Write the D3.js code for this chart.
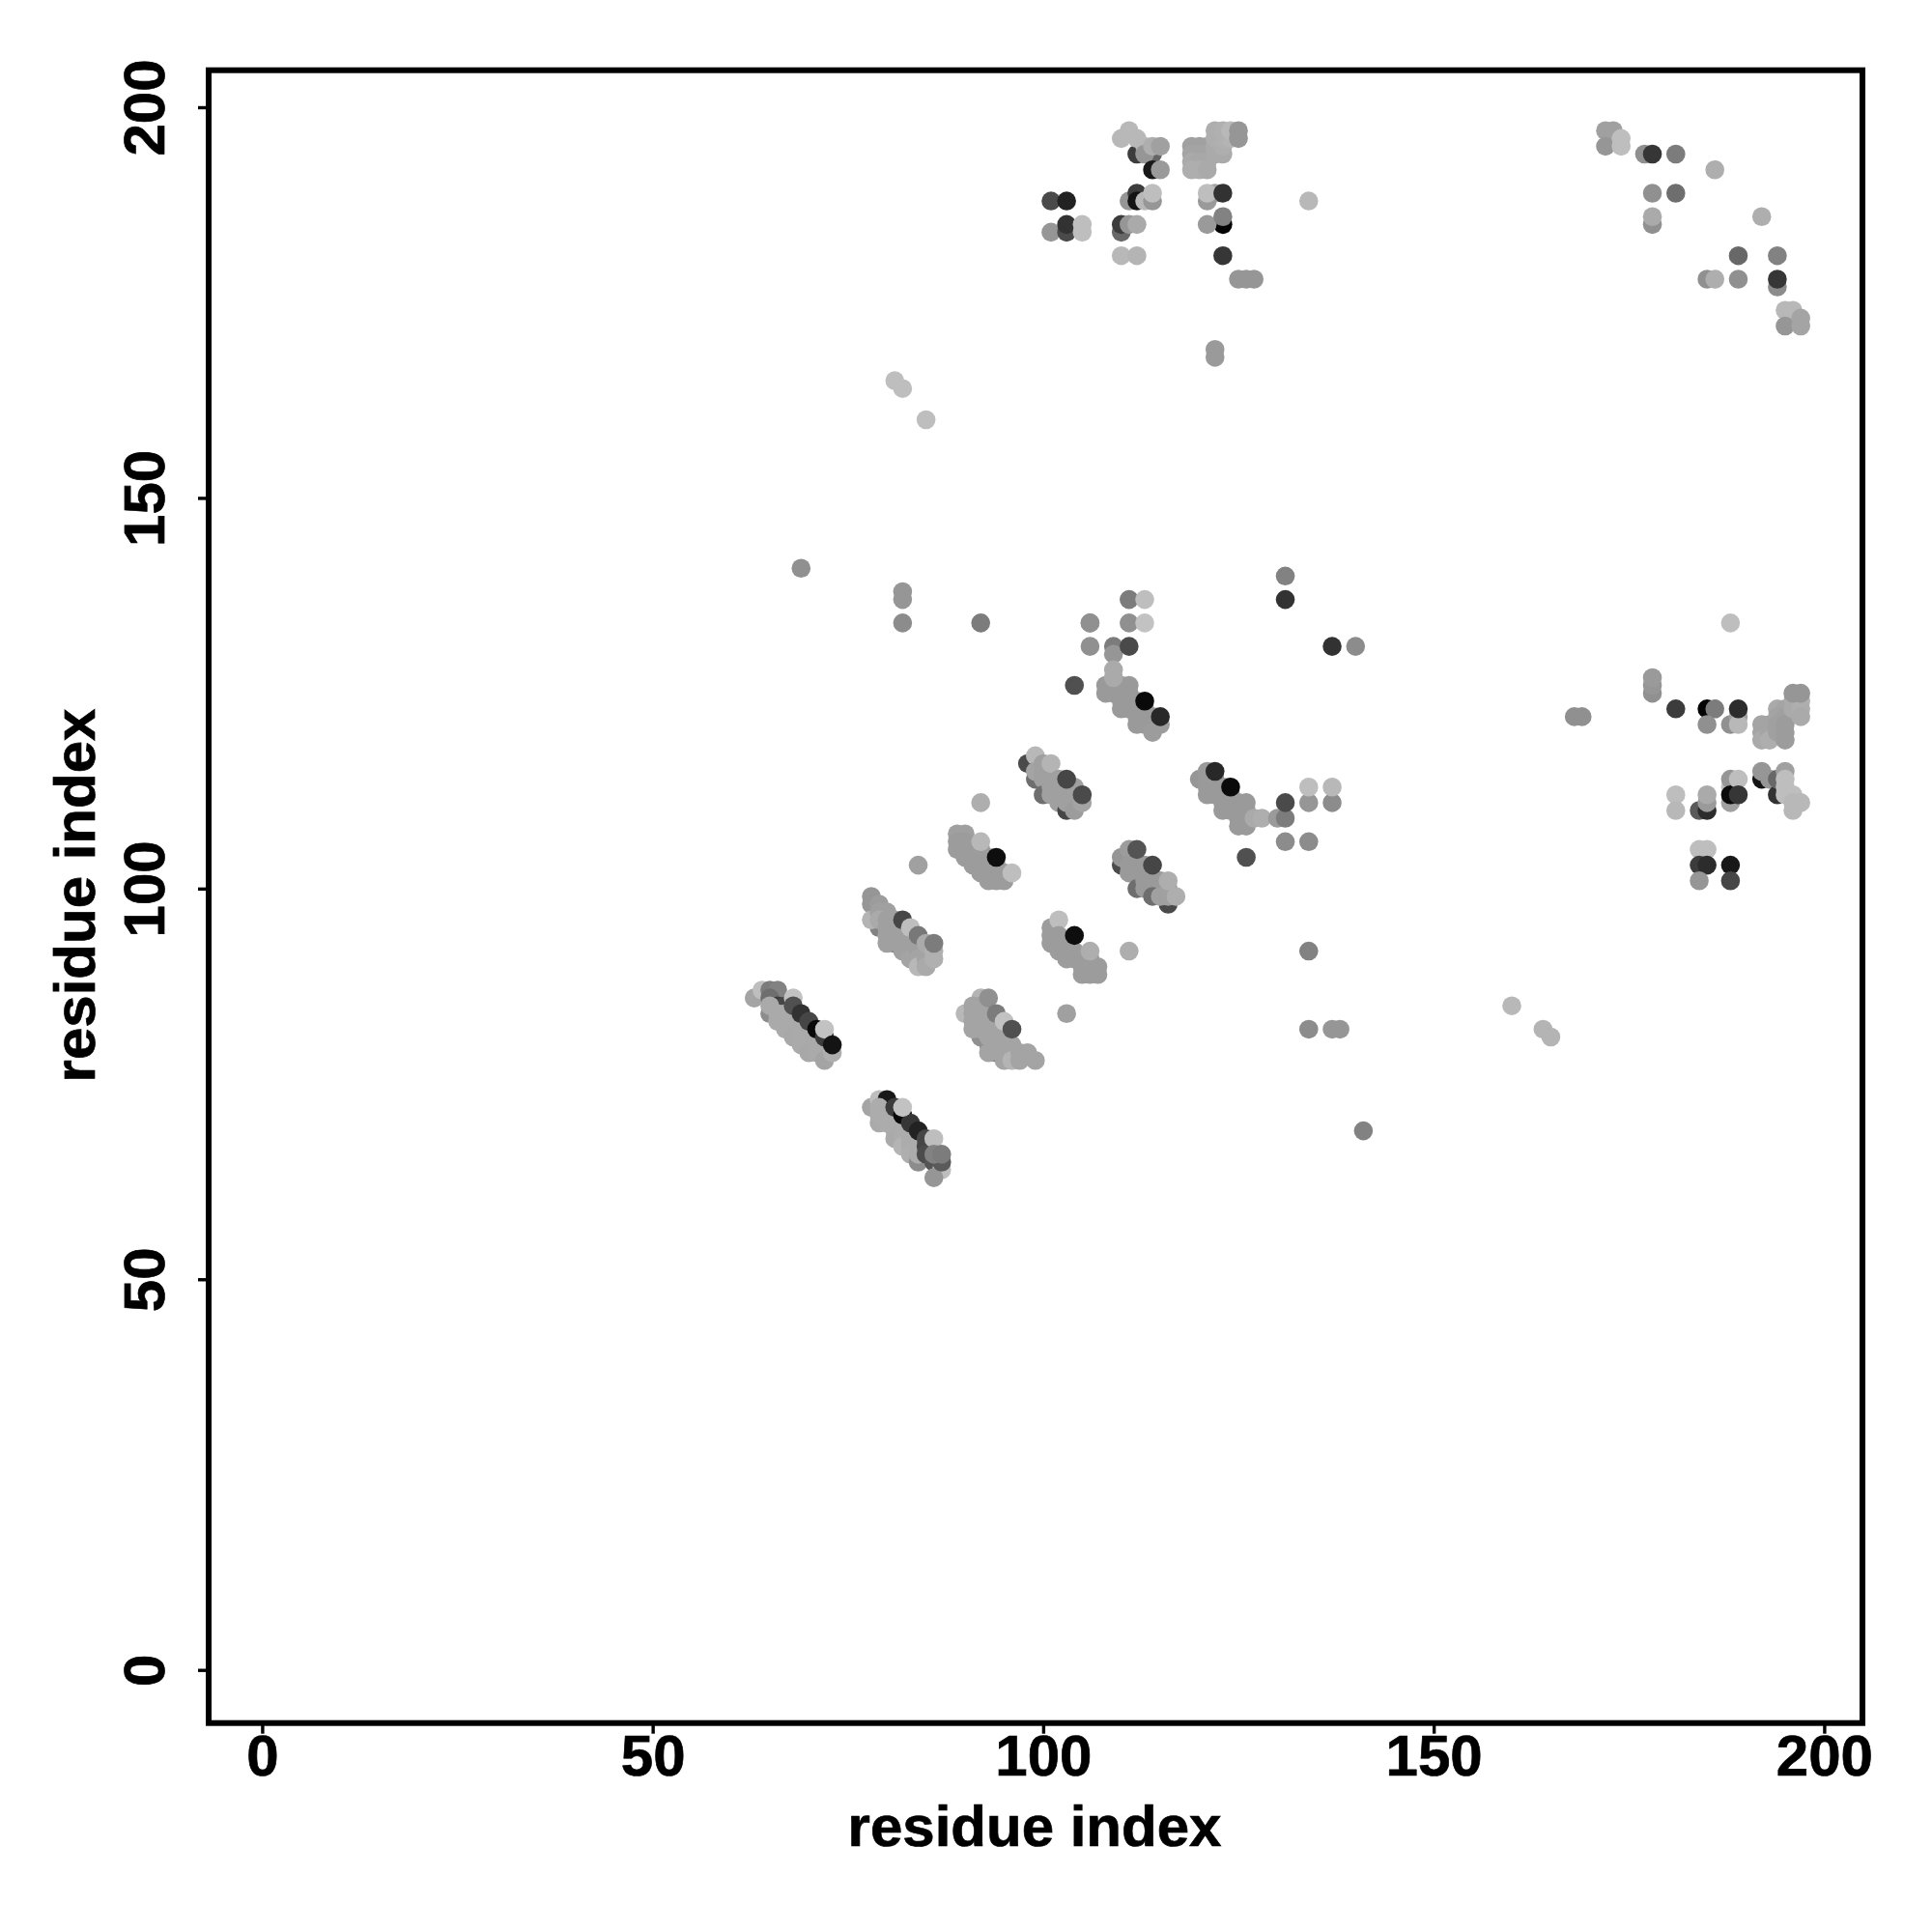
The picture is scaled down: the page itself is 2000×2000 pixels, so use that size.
<!DOCTYPE html>
<html><head><meta charset="utf-8">
<script src="https://d3js.org/d3.v7.min.js"></script>
<style>html,body{margin:0;padding:0;background:#fff}svg{display:block}text{font-family:"Liberation Sans",Arial,sans-serif;font-weight:700;fill:#000;stroke:#000;stroke-width:0.7px}</style>
</head><body><svg id="c" width="2000" height="2000"></svg>
<script>
// each contact: [residue i, residue j, shade score 0 (dark) – 100 (light)]
const helixA = [[63,86,82],[64,87,95],[65,87,62],[66,87,65],[65,86,55],[65,84,70],[66,85,30],[67,85,35],[65,85,85],[66,84,85],[66,83,85],[67,84,85],[67,83,85],[67,82,85],[68,83,85],[68,82,85],[68,81,84],[69,82,85],[69,81,85],[69,80,85],[70,81,85],[70,80,85],[70,79,84],[71,81,85],[71,80,85],[71,79,85],[72,80,85],[72,79,85],[72,78,82],[73,79,87],[68,86,97],[68,85,40],[69,84,25],[70,83,35],[71,82,5],[72,81,30],[72,82,97],[73,80,10]];
const helixB = [[78,72,82],[79,73,95],[79,70,85],[80,73,12],[79,72,86],[79,71,86],[80,71,86],[80,70,86],[81,70,86],[81,69,86],[81,68,85],[82,69,86],[82,68,86],[82,67,90],[83,68,86],[83,67,86],[83,66,87],[84,65,70],[84,67,86],[84,66,86],[85,66,86],[81,72,30],[82,71,5],[83,70,27],[84,69,17],[85,68,35],[85,67,35],[85,66,38],[86,65,42],[82,72,97],[86,68,95],[87,64,95],[86,63,75],[87,65,45],[86,66,65],[87,66,62]];
const helixC = [[92,81,72],[93,80,72],[94,79,65],[90,84,92],[92,86,90],[91,85,82],[91,84,82],[91,83,82],[91,82,82],[92,85,82],[92,84,82],[92,83,82],[92,82,82],[93,83,82],[93,82,82],[93,81,82],[93,79,82],[94,82,82],[94,81,82],[94,80,82],[95,81,82],[95,80,82],[95,79,82],[95,78,82],[96,80,82],[96,79,82],[96,78,90],[97,78,82],[97,79,82],[98,79,82],[99,78,82],[93,86,72],[94,84,62],[95,83,97],[96,82,40]];
const helixD = [[79,95,65],[81,93,65],[78,99,75],[78,98,75],[79,98,78],[78,96,90],[79,97,80],[80,97,80],[79,96,85],[80,96,80],[80,95,80],[80,94,80],[80,93,80],[81,96,80],[81,95,80],[81,94,80],[82,95,80],[82,94,80],[82,93,80],[82,92,80],[83,94,80],[83,93,80],[83,92,80],[83,91,82],[84,93,80],[84,92,80],[84,91,82],[84,90,92],[85,92,82],[85,91,82],[85,90,85],[86,91,88],[82,96,35],[83,95,95],[84,94,60],[85,93,85],[86,92,88],[86,93,62]];
const helixE = [[89,107,80],[90,107,80],[89,106,78],[90,106,78],[89,105,78],[90,105,78],[91,105,78],[92,105,78],[91,104,78],[92,104,78],[93,104,78],[90,104,78],[91,103,78],[92,103,78],[93,103,78],[94,103,78],[92,102,78],[93,102,78],[94,102,78],[95,102,78],[93,101,78],[94,101,78],[95,101,78],[92,106,92],[94,104,7],[96,102,95]];
const helixF = [[98,116,37],[99,114,55],[99,117,92],[99,115,82],[100,116,80],[100,115,80],[100,114,80],[100,112,55],[101,114,80],[101,113,80],[101,112,80],[101,116,90],[102,114,80],[102,113,80],[102,112,80],[102,111,80],[103,110,35],[103,112,80],[103,111,80],[104,113,80],[104,112,80],[104,111,80],[104,110,78],[105,111,82],[103,114,35],[105,112,37]];
const helixG = [[101,95,78],[101,94,78],[101,93,78],[102,96,95],[102,94,78],[102,93,78],[102,92,78],[103,93,78],[103,92,78],[103,91,78],[104,92,78],[104,91,78],[105,91,78],[105,90,78],[105,89,78],[106,91,78],[106,90,78],[106,89,78],[107,90,78],[107,89,78],[104,94,7],[106,92,87]];
const helixH = [[110,103,37],[110,104,75],[111,105,78],[111,103,77],[111,102,77],[112,103,77],[112,102,77],[112,100,55],[113,103,77],[113,102,77],[113,101,77],[113,100,77],[114,101,77],[114,100,77],[115,101,77],[115,100,77],[116,100,77],[114,99,55],[116,98,37],[115,99,80],[116,99,80],[112,105,42],[114,103,35],[116,101,87],[117,99,87]];
const helixI = [[120,114,75],[121,115,77],[121,114,77],[122,114,77],[121,113,77],[122,113,77],[121,112,77],[122,112,77],[123,113,77],[123,112,77],[123,111,77],[123,110,77],[124,112,77],[124,111,77],[124,110,77],[125,111,77],[125,110,77],[125,109,77],[125,108,77],[126,111,77],[126,110,77],[126,109,77],[126,108,77],[127,109,85],[128,109,87],[130,109,77],[131,109,62],[131,111,37],[122,115,20],[124,113,5]];
const helixJ = [[108,126,77],[108,125,77],[109,126,77],[109,125,77],[110,126,77],[111,126,77],[110,125,77],[111,125,77],[110,124,77],[111,124,77],[110,123,77],[111,123,77],[112,124,77],[112,123,77],[112,122,77],[112,121,77],[113,123,77],[113,122,77],[113,121,77],[114,122,77],[114,121,77],[114,120,78],[115,121,78],[109,131,62],[109,130,75],[109,128,85],[109,127,85],[104,126,40],[106,134,72],[106,131,72],[111,131,37],[111,134,72],[113,134,97],[111,137,62],[113,137,95],[113,124,5],[115,122,20]];
const upperMiddle = [[101,188,37],[103,188,17],[101,184,75],[103,184,37],[103,185,25],[105,184,95],[105,185,95],[110,184,52],[110,185,30],[111,185,75],[112,185,85],[110,181,92],[112,181,90],[111,188,75],[112,189,30],[112,188,10],[113,188,92],[114,188,75],[114,189,95],[112,194,30],[114,194,50],[110,196,92],[111,197,92],[112,196,92],[113,195,92],[113,194,75],[114,195,87],[114,192,12],[115,192,77],[115,195,80]];
const upperBlock = [[119,195,80],[120,195,80],[121,195,80],[119,194,82],[120,194,82],[121,194,82],[119,193,85],[120,193,84],[121,193,84],[119,192,87],[120,192,87],[121,192,85],[122,195,85],[122,194,85],[123,194,85],[123,195,87],[122,196,87],[123,196,88],[124,196,90],[122,197,87],[123,197,88],[124,197,92],[125,197,75],[125,196,75],[122,189,82],[121,188,77],[121,189,95],[123,189,25],[123,185,2],[121,185,77],[123,186,65],[123,181,27],[125,178,75],[126,178,75],[127,178,75],[122,169,77],[122,168,77]];
const upperRight = [[172,197,80],[173,197,80],[172,195,75],[174,196,95],[174,195,95],[177,194,72],[178,194,27],[181,194,62],[186,192,87],[178,189,72],[181,189,55],[178,185,72],[178,186,85],[192,186,87],[189,181,52],[194,181,65],[185,178,72],[186,178,87],[189,178,72],[194,177,70],[194,178,27],[195,174,92],[196,174,92],[195,172,75],[197,173,82],[197,172,82]];
const lowerRight = [[188,134,95],[178,125,72],[178,126,75],[178,127,77],[168,122,72],[169,122,72],[181,123,30],[185,123,2],[186,123,62],[185,121,72],[188,121,72],[189,122,80],[189,121,92],[189,123,22],[192,121,82],[192,120,82],[192,119,85],[193,121,82],[193,120,82],[193,119,87],[194,123,85],[194,122,82],[194,121,80],[194,120,80],[195,123,82],[195,122,80],[195,121,78],[195,120,78],[195,119,78],[196,124,85],[196,123,85],[197,124,88],[197,123,87],[197,122,85],[196,125,75],[197,125,75],[181,112,95],[181,110,92],[184,110,45],[185,110,22],[185,111,77],[185,112,85],[188,111,80],[188,113,95],[188,114,75],[188,112,5],[189,114,95],[189,112,27],[192,114,10],[192,115,75],[193,114,75],[194,112,25],[194,114,52],[195,115,80],[195,114,95],[195,113,95],[195,112,95],[196,112,95],[196,111,92],[197,111,92],[196,110,92],[184,105,95],[185,105,95],[184,103,30],[185,103,22],[184,101,75],[188,103,12],[188,101,35]];
const isolated = [[69,141,72],[82,138,75],[82,137,75],[82,134,70],[92,134,62],[106,134,72],[84,103,80],[92,111,87],[103,84,80],[111,92,87],[126,104,40],[131,106,70],[134,106,70],[134,111,75],[134,113,95],[137,111,70],[137,113,92],[131,140,65],[131,137,25],[137,131,25],[140,131,70],[134,92,65],[134,82,70],[137,82,75],[138,82,75],[141,69,65],[160,85,92],[164,82,90],[165,81,90],[81,165,95],[82,164,95],[85,160,95],[134,188,92]];
const xTicks = [0,50,100,150,200];
const yTicks = [0,50,100,150,200];
const xTitle = "residue index";
const yTitle = "residue index";

const contacts = [].concat(helixA,helixB,helixC,helixD,helixE,helixF,helixG,helixH,helixI,helixJ,upperMiddle,upperBlock,upperRight,lowerRight,isolated);

const x = d3.scaleLinear().domain([0,200]).range([271.4,1888.4]);
const y = d3.scaleLinear().domain([0,200]).range([1728.7,111]);
const shade = d3.scaleLinear().domain([0,100]).range(["#000000","#c8c8c8"]);
const frame = {l:216,r:1928,t:72.7,b:1783.7};
const svg = d3.select("#c");

svg.append("g").selectAll("circle").data(contacts).join("circle")
  .attr("cx",d=>x(d[0])).attr("cy",d=>y(d[1])).attr("r",9.8)
  .attr("fill",d=>shade(d[2]));

svg.append("rect").attr("x",frame.l).attr("y",frame.t)
  .attr("width",frame.r-frame.l).attr("height",frame.b-frame.t)
  .attr("fill","none").attr("stroke","#000").attr("stroke-width",6);

const gx = svg.append("g").attr("transform",`translate(0,${frame.b})`)
  .call(d3.axisBottom(x).tickValues(xTicks).tickSize(11).tickFormat(d3.format("d")));
gx.select(".domain").remove();
gx.selectAll("line").attr("stroke","#000").attr("stroke-width",3.4);
gx.selectAll("text").attr("dy",null).attr("y",54.5).attr("font-size",60).attr("text-anchor","middle");

const gy = svg.append("g").attr("transform",`translate(${frame.l},0)`)
  .call(d3.axisLeft(y).tickValues(yTicks).tickSize(11).tickFormat(d3.format("d")));
gy.select(".domain").remove();
gy.selectAll("line").attr("stroke","#000").attr("stroke-width",3.4);
gy.selectAll("text").attr("x",null).attr("dy",null)
  .attr("text-anchor","middle").attr("font-size",60)
  .attr("transform","translate(-46,0) rotate(-90)");

svg.append("text").attr("x",1071).attr("y",1911).attr("text-anchor","middle")
  .attr("font-size",60).text(xTitle);
svg.append("text").attr("text-anchor","middle").attr("font-size",60)
  .attr("transform","translate(98,927) rotate(-90)").text(yTitle);
</script></body></html>
